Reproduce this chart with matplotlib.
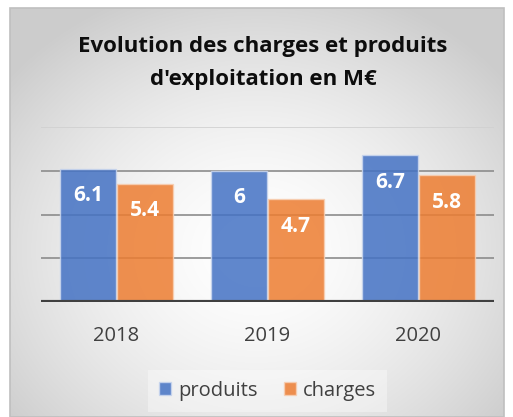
import numpy as np
import matplotlib
matplotlib.use("Agg")
import matplotlib.pyplot as plt
from matplotlib.patches import Rectangle

years = ["2018", "2019", "2020"]
produits = [6.1, 6.0, 6.7]
charges = [5.4, 4.7, 5.8]
labels_produits = ["6.1", "6", "6.7"]
labels_charges = ["5.4", "4.7", "5.8"]

BLUE = "#4472C4"
ORANGE = "#ED7D31"
FONT = ["Open Sans", "DejaVu Sans"]

W, H = 513, 417
fig = plt.figure(figsize=(W / 100, H / 100), dpi=100)
fig.patch.set_facecolor("white")

# background panel with a soft radial gradient
bg = fig.add_axes([0, 0, 1, 1])
bg.set_xlim(0, W)
bg.set_ylim(H, 0)
bg.axis("off")
yy, xx = np.mgrid[0:H, 0:W]
r = np.sqrt(((xx - 256) / 300.0) ** 2 + ((yy - 250) / 260.0) ** 2)
shade = np.clip(1.0 - 0.18 * r ** 1.6, 0.80, 1.0)
img = np.dstack([shade, shade, shade])
x0, y0, x1, y1 = 10, 8, 504, 417
bg.imshow(img[y0:y1, x0:x1], extent=(x0, x1, y1, y0), interpolation="bilinear", zorder=0)
bg.add_patch(Rectangle((x0, y0), x1 - x0, y1 - y0, fill=False, ec="#BFBFBF", lw=1.2, zorder=1))

bg.text(263, 46, "Evolution des charges et produits", ha="center", va="center",
        fontsize=16, fontweight="bold", color="#0D0D0D", family=FONT)
bg.text(263, 79, "d'exploitation en M€", ha="center", va="center",
        fontsize=16, fontweight="bold", color="#0D0D0D", family=FONT)

ax = fig.add_axes([41 / W, 1 - 302 / H, 453 / W, 175 / H])
ax.patch.set_alpha(0)
x = np.arange(len(years))
off, bw = 0.187, 0.37
ax.set_xlim(-0.5, len(years) - 0.5)
ax.set_ylim(0, 8)

for v in [2, 4, 6]:
    ax.axhline(v, color="#8C8C8C", lw=1.2, zorder=1)
ax.axhline(8, color="#D0D0D0", lw=1.2, zorder=1)

b1 = ax.bar(x - off, produits, bw, color=BLUE, alpha=0.85, ec="#C9D6EE", lw=1.0, zorder=2, label="produits")
b2 = ax.bar(x + off, charges, bw, color=ORANGE, alpha=0.85, ec="#F7CFB3", lw=1.0, zorder=2, label="charges")

for bars, labs in [(b1, labels_produits), (b2, labels_charges)]:
    for rect, lab in zip(bars, labs):
        ax.annotate(lab, (rect.get_x() + rect.get_width() / 2, rect.get_height()),
                    xytext=(0, -19.5), textcoords="offset points", ha="center", va="center",
                    fontsize=15, fontweight="bold", color="white", family=FONT, zorder=3)

ax.axhline(0, color="#404040", lw=3, zorder=4)
ax.set_xticks(x)
ax.set_xticklabels(years, fontsize=14.5, color="#404040", family=FONT)
ax.tick_params(axis="x", length=0, pad=17)
ax.set_yticks([])
for s in ax.spines.values():
    s.set_visible(False)

leg = ax.legend(loc="upper center", bbox_to_anchor=(0.5, -0.33), ncol=2, frameon=True,
                handlelength=0.6, handleheight=0.6, handletextpad=0.35,
                columnspacing=1.3, borderpad=0.55, prop={"family": FONT, "size": 14.5})
leg.get_frame().set_facecolor("white")
leg.get_frame().set_alpha(0.35)
leg.get_frame().set_edgecolor("none")
leg.get_frame().set_boxstyle("square", pad=0.0)
for t in leg.get_texts():
    t.set_color("#404040")

fig.savefig("out.png", dpi=100)
